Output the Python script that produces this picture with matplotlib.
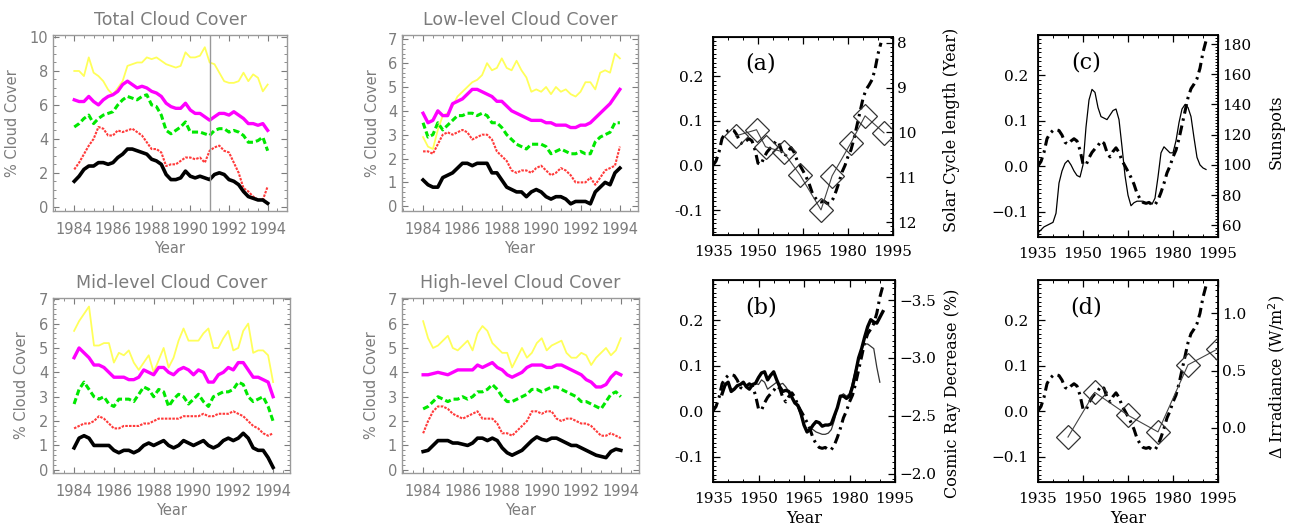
import numpy as np
import matplotlib.pyplot as plt
from matplotlib.ticker import MultipleLocator, AutoMinorLocator

# CLOUD COVER CURVES, SAMPLED EVERY QUARTER YEAR 1984.0 - 1994.0
cloud_years = np.linspace(1984, 1994, 41)

total_yellow = [8.0, 8.0, 7.7, 8.8, 7.9, 7.7, 7.4, 6.9, 6.6, 7.0, 7.4, 8.3, 8.4, 8.5, 8.5, 8.8, 8.7, 8.8, 8.6, 8.4,
                8.3, 8.2, 8.3, 9.1, 8.8, 8.8, 8.9, 9.4, 8.5, 8.4, 7.9, 7.4, 7.3, 7.3, 7.4, 7.9, 7.4, 7.8, 7.6, 6.8, 7.2]
total_magenta = [6.3, 6.2, 6.2, 6.5, 6.2, 6.0, 6.3, 6.5, 6.6, 6.8, 7.2, 7.4, 7.2, 7.0, 7.1, 7.0, 6.8, 6.7, 6.5, 6.1,
                 5.9, 5.8, 5.8, 6.1, 5.7, 5.5, 5.5, 5.3, 5.1, 5.3, 5.5, 5.5, 5.4, 5.6, 5.4, 5.2, 4.9, 4.9, 4.8, 4.9, 4.5]
total_green = [4.7, 4.9, 5.2, 5.4, 4.9, 5.2, 5.4, 5.5, 5.6, 6.0, 6.3, 6.5, 6.4, 6.3, 6.5, 6.6, 6.0, 5.9, 5.4, 4.5,
               4.3, 4.5, 4.7, 5.0, 4.4, 4.4, 4.4, 4.3, 4.2, 4.5, 4.6, 4.6, 4.4, 4.5, 4.4, 4.2, 3.8, 3.8, 3.9, 4.1, 3.3]
total_red = [2.2, 2.6, 3.1, 3.6, 4.0, 4.7, 4.6, 4.2, 4.2, 4.5, 4.4, 4.5, 4.6, 4.4, 4.2, 3.8, 3.4, 3.4, 3.2, 2.4,
             2.5, 2.5, 2.7, 2.9, 2.9, 2.8, 2.9, 2.6, 3.3, 3.5, 3.6, 3.3, 3.2, 2.6, 2.0, 1.1, 0.9, 0.6, 0.4, 0.4, 1.2]
total_black = [1.5, 1.8, 2.2, 2.4, 2.4, 2.6, 2.6, 2.5, 2.6, 2.9, 3.1, 3.4, 3.4, 3.3, 3.2, 3.1, 2.8, 2.7, 2.5, 1.9,
               1.6, 1.6, 1.7, 2.1, 1.8, 1.7, 1.8, 1.7, 1.6, 1.9, 2.0, 1.9, 1.6, 1.5, 1.3, 0.9, 0.6, 0.5, 0.4, 0.4, 0.2]

low_yellow = [2.9, 2.5, 2.4, 3.2, 3.8, 3.9, 4.2, 4.6, 4.8, 5.0, 5.2, 5.3, 5.5, 6.0, 5.7, 5.8, 6.2, 5.8, 5.7, 6.1,
              5.7, 5.4, 4.8, 4.9, 4.8, 5.0, 4.7, 5.0, 4.8, 4.9, 4.7, 4.6, 4.8, 5.2, 5.2, 4.9, 5.6, 5.7, 5.6, 6.4, 6.2]
low_magenta = [3.9, 3.5, 3.6, 4.0, 3.8, 3.8, 4.3, 4.4, 4.5, 4.7, 4.9, 4.9, 4.8, 4.7, 4.6, 4.4, 4.4, 4.2, 4.0, 3.9,
               3.8, 3.7, 3.6, 3.6, 3.6, 3.5, 3.5, 3.4, 3.4, 3.4, 3.3, 3.3, 3.4, 3.4, 3.5, 3.7, 3.9, 4.1, 4.3, 4.6, 4.9]
low_green = [3.5, 2.9, 3.0, 3.5, 3.2, 3.4, 3.6, 3.8, 3.8, 3.9, 3.9, 3.8, 3.9, 3.8, 3.5, 3.5, 3.3, 3.0, 2.8, 2.6,
             2.5, 2.4, 2.6, 2.6, 2.6, 2.5, 2.2, 2.3, 2.4, 2.3, 2.2, 2.2, 2.3, 2.2, 2.2, 2.7, 2.9, 3.0, 3.1, 3.5, 3.5]
low_red = [2.3, 2.3, 2.2, 2.6, 3.0, 3.1, 3.0, 3.1, 3.2, 3.1, 2.8, 2.9, 3.0, 3.0, 2.8, 2.3, 2.1, 1.9, 1.5, 1.4,
           1.5, 1.5, 1.4, 1.6, 1.7, 1.5, 1.3, 1.4, 1.6, 1.5, 1.3, 1.0, 1.0, 1.0, 1.2, 0.9, 1.2, 1.5, 1.6, 1.7, 2.5]
low_black = [1.1, 0.9, 0.8, 0.8, 1.2, 1.3, 1.4, 1.6, 1.8, 1.8, 1.7, 1.8, 1.8, 1.8, 1.4, 1.4, 1.1, 0.8, 0.7, 0.6,
             0.6, 0.4, 0.6, 0.7, 0.6, 0.4, 0.3, 0.4, 0.4, 0.3, 0.1, 0.2, 0.2, 0.2, 0.1, 0.6, 0.8, 1.0, 0.9, 1.4, 1.6]

mid_yellow = [5.7, 6.1, 6.4, 6.7, 5.1, 5.1, 5.2, 5.2, 4.4, 4.8, 4.7, 4.9, 4.4, 4.1, 4.4, 4.7, 4.0, 4.5, 5.0, 4.2,
              4.6, 5.3, 5.8, 5.3, 5.3, 5.3, 5.6, 5.8, 5.0, 5.0, 5.4, 5.7, 4.9, 5.0, 5.7, 6.0, 4.8, 4.9, 4.9, 4.7, 3.6]
mid_magenta = [4.6, 5.0, 4.8, 4.6, 4.3, 4.3, 4.2, 4.0, 3.8, 3.8, 3.8, 3.7, 3.7, 3.8, 4.1, 4.0, 3.9, 4.2, 4.2, 4.0,
               3.9, 4.1, 4.2, 4.1, 3.9, 4.1, 4.0, 3.6, 3.6, 3.9, 4.0, 4.2, 4.1, 4.4, 4.4, 4.1, 3.8, 3.8, 3.7, 3.6, 3.0]
mid_green = [2.7, 3.3, 3.6, 3.3, 3.0, 2.9, 3.0, 2.7, 2.6, 2.9, 2.9, 2.9, 2.8, 3.1, 3.4, 3.3, 3.0, 3.3, 3.2, 2.6,
             2.9, 3.1, 3.0, 2.7, 2.9, 3.1, 2.8, 2.6, 3.0, 3.1, 3.2, 3.2, 3.3, 3.6, 3.5, 3.0, 2.8, 2.9, 3.0, 2.6, 2.0]
mid_red = [1.7, 1.8, 1.9, 1.9, 2.0, 2.2, 2.1, 1.9, 1.7, 1.7, 1.8, 1.8, 1.8, 1.8, 1.9, 1.9, 2.0, 2.1, 2.1, 2.1,
           2.1, 2.1, 2.2, 2.2, 2.2, 2.2, 2.3, 2.2, 2.2, 2.3, 2.3, 2.3, 2.4, 2.3, 2.2, 2.0, 1.8, 1.7, 1.5, 1.4, 1.5]
mid_black = [0.9, 1.3, 1.4, 1.3, 1.0, 1.0, 1.0, 1.0, 0.8, 0.7, 0.8, 0.8, 0.7, 0.8, 1.0, 1.1, 1.0, 1.1, 1.2, 1.0,
             0.9, 1.0, 1.2, 1.1, 1.0, 1.1, 1.2, 1.0, 0.9, 1.0, 1.2, 1.3, 1.2, 1.3, 1.5, 1.3, 0.9, 0.8, 0.8, 0.5, 0.1]

high_yellow = [6.1, 5.4, 5.0, 5.1, 5.3, 5.5, 5.0, 4.9, 5.1, 5.3, 4.9, 5.6, 5.9, 5.7, 5.2, 5.0, 4.8, 4.8, 4.2, 4.6,
               5.0, 4.6, 4.8, 5.2, 5.4, 4.9, 5.1, 5.2, 5.3, 4.8, 4.6, 4.6, 4.8, 4.7, 4.3, 4.6, 4.8, 5.0, 4.7, 4.9, 5.4]
high_magenta = [3.9, 3.9, 3.95, 4.0, 3.95, 3.9, 4.0, 4.1, 4.1, 4.1, 4.1, 4.3, 4.2, 4.3, 4.4, 4.2, 4.1, 3.9, 3.8, 3.9,
                4.0, 4.2, 4.3, 4.3, 4.3, 4.2, 4.2, 4.3, 4.3, 4.2, 4.1, 4.0, 3.9, 3.7, 3.6, 3.4, 3.4, 3.5, 3.8, 4.0, 3.9]
high_green = [2.5, 2.6, 2.8, 3.0, 2.9, 2.8, 2.9, 2.9, 3.0, 2.9, 3.0, 3.2, 3.2, 3.3, 3.5, 3.3, 3.0, 2.8, 2.8, 2.9,
              3.0, 3.1, 3.3, 3.3, 3.2, 3.3, 3.4, 3.4, 3.3, 3.2, 3.1, 3.0, 2.8, 2.8, 2.7, 2.6, 2.5, 2.8, 3.1, 3.2, 3.0]
high_red = [1.5, 2.0, 2.4, 2.6, 2.6, 2.5, 2.3, 2.2, 2.1, 2.2, 2.3, 2.4, 2.1, 2.1, 2.1, 1.9, 1.5, 1.5, 1.4, 1.6,
            1.8, 2.0, 2.4, 2.4, 2.3, 2.4, 2.4, 2.1, 2.0, 2.1, 2.1, 2.0, 1.9, 1.9, 1.8, 1.6, 1.4, 1.4, 1.5, 1.4, 1.3]
high_black = [0.75, 0.8, 1.0, 1.2, 1.2, 1.2, 1.1, 1.1, 1.05, 1.0, 1.1, 1.3, 1.3, 1.2, 1.3, 1.2, 0.9, 0.7, 0.6, 0.7,
              0.8, 1.0, 1.2, 1.35, 1.25, 1.2, 1.3, 1.3, 1.2, 1.1, 1.0, 1.0, 0.9, 0.8, 0.7, 0.6, 0.55, 0.5, 0.75, 0.85, 0.8]

cloud_ticks = [1984, 1986, 1988, 1990, 1992, 1994]
vline_year = 1991.0

# TEMPERATURE ANOMALY (DASH-DOT CURVE, SAME IN ALL FOUR RIGHT PANELS)
temp_years = np.arange(1935, 1992)
temp_anom = [0.000, 0.010, 0.030, 0.060, 0.072, 0.078, 0.080, 0.078, 0.068, 0.052,
             0.048, 0.055, 0.060, 0.055, 0.035, 0.005, 0.002, 0.018, 0.030, 0.038,
             0.045, 0.055, 0.050, 0.030, 0.020, 0.032, 0.040, 0.030, 0.012, 0.000,
             -0.012, -0.025, -0.040, -0.060, -0.072, -0.080, -0.082, -0.080, -0.085, -0.085,
             -0.075, -0.058, -0.038, -0.015, 0.000, 0.020, 0.035, 0.060, 0.090, 0.120,
             0.150, 0.170, 0.180, 0.192, 0.215, 0.250, 0.275]

# (a) SOLAR CYCLE LENGTH
cycle_years = [1942.5, 1949.5, 1952.5, 1958.5, 1964.0, 1971.0, 1974.7, 1981.0, 1985.7, 1992.0]
cycle_length = [10.08, 9.94, 10.32, 10.44, 10.95, 11.73, 10.97, 10.23, 9.63, 10.01]

# (b) COSMIC RAY DECREASE
cr_thick_years = np.arange(1938, 1992)
cr_thick = [-2.69, -2.77, -2.79, -2.71, -2.73, -2.76, -2.77, -2.79, -2.75, -2.73,
            -2.77, -2.78, -2.83, -2.87, -2.88, -2.81, -2.85, -2.88, -2.81, -2.75,
            -2.71, -2.72, -2.71, -2.66, -2.61, -2.59, -2.52, -2.42, -2.36, -2.38,
            -2.42, -2.45, -2.44, -2.41, -2.42, -2.42, -2.43, -2.50, -2.57, -2.67,
            -2.67, -2.65, -2.67, -2.75, -2.87, -3.00, -3.08, -3.18, -3.27, -3.33,
            -3.31, -3.30, -3.35, -3.40]
cr_thin_years = np.arange(1938, 1991)
cr_thin = [-2.69, -2.75, -2.79, -2.73, -2.73, -2.76, -2.77, -2.78, -2.75, -2.73,
           -2.76, -2.78, -2.77, -2.81, -2.79, -2.73, -2.75, -2.77, -2.79, -2.77,
           -2.78, -2.75, -2.71, -2.67, -2.61, -2.57, -2.50, -2.42, -2.38, -2.39,
           -2.38, -2.36, -2.35, -2.34, -2.34, -2.35, -2.38, -2.46, -2.57, -2.67,
           -2.69, -2.67, -2.69, -2.79, -2.90, -3.00, -3.08, -3.12, -3.12, -3.10,
           -3.08, -2.92, -2.79]

# (c) SUNSPOTS
sun_years = np.arange(1935, 1992)
sunspots = [55, 57, 59, 60, 61, 62, 68, 88, 96, 101,
            103, 100, 96, 93, 92, 100, 125, 143, 150, 148,
            138, 132, 131, 130, 133, 136, 137, 130, 112, 93,
            80, 73, 75, 76, 76, 76, 75, 75, 74, 78,
            92, 108, 112, 110, 108, 108, 116, 128, 137, 140,
            138, 132, 118, 105, 100, 98, 97]

# (d) IRRADIANCE
irr_years = [1945.0, 1953.9, 1965.0, 1975.0, 1985.0, 1995.0]
irradiance = [-0.08, 0.31, 0.11, -0.035, 0.55, 0.69]

W, H = 1292, 528
GREY = '#7c7c7c'
SANS = 'DejaVu Sans'
SERIF = 'DejaVu Serif'
DASHDOT = (0, (3.2, 1.6, 0.8, 1.6))

plt.rcParams['font.family'] = SERIF


def px_rect(left, top, right, bottom):
    return [left / W, 1 - bottom / H, (right - left) / W, (bottom - top) / H]


fig = plt.figure(figsize=(W / 100, H / 100), dpi=100)


def cloud_panel(rect, title, xlim, ylim, ystep, yminor, curves, ylab_x, vline=None):
    ax = fig.add_axes(rect)
    yel, mag, grn, red, blk = curves
    ax.plot(cloud_years, yel, color='#ffff5a', lw=1.3)
    ax.plot(cloud_years, mag, color='#ff00ff', lw=2.4)
    ax.plot(cloud_years, grn, color='#00e800', lw=2.2, ls=(0, (2, 1)))
    ax.plot(cloud_years, red, color='#ff3a3a', lw=1.5, ls=(0, (1.2, 0.6)))
    ax.plot(cloud_years, blk, color='black', lw=2.6)
    if vline is not None:
        ax.axvline(vline, color='#999999', lw=1.0)
    ax.set_xlim(*xlim)
    ax.set_ylim(*ylim)
    ax.set_xticks(cloud_ticks)
    ax.yaxis.set_major_locator(MultipleLocator(ystep))
    ax.xaxis.set_minor_locator(MultipleLocator(0.5))
    ax.yaxis.set_minor_locator(MultipleLocator(yminor))
    ax.tick_params(which='both', direction='in', top=True, right=True, colors=GREY, labelcolor=GREY)
    ax.tick_params(which='major', length=4, width=0.8, labelsize=10.5, labelfontfamily=SANS)
    ax.tick_params(which='minor', length=2, width=0.6)
    ax.tick_params(axis='x', which='major', pad=8)
    for s in ax.spines.values():
        s.set_color('#9a9a9a')
        s.set_linewidth(1.0)
    ax.set_title(title, color=GREY, fontsize=12.5, pad=7, family=SANS)
    ax.set_xlabel('Year', color=GREY, fontsize=10.5, labelpad=3, family=SANS)
    ax.set_ylabel('% Cloud Cover', color=GREY, fontsize=10.5, family=SANS)
    ax.yaxis.set_label_coords(ylab_x, 0.5)
    return ax


cloud_panel(px_rect(53, 35, 287, 211), 'Total Cloud Cover', (1982.9, 1995.0), (-0.25, 10.12), 2, 0.5,
            (total_yellow, total_magenta, total_green, total_red, total_black), -0.14, vline=vline_year)
cloud_panel(px_rect(402, 35, 638, 211), 'Low-level Cloud Cover', (1982.93, 1994.92), (-0.2, 7.18), 1, 0.2,
            (low_yellow, low_magenta, low_green, low_red, low_black), -0.095)
cloud_panel(px_rect(53, 298, 290, 473), 'Mid-level Cloud Cover', (1982.94, 1994.85), (-0.13, 7.05), 1, 0.2,
            (mid_yellow, mid_magenta, mid_green, mid_red, mid_black), -0.1)
cloud_panel(px_rect(402, 298, 639, 473), 'High-level Cloud Cover', (1982.93, 1994.92), (-0.13, 7.05), 1, 0.2,
            (high_yellow, high_magenta, high_green, high_red, high_black), -0.095)


def solar_panel(rect, letter, left_labels, ylim2, rticks, rlabels, rlabel, rlab_xy, xlabel=False):
    ax = fig.add_axes(rect)
    ax.plot(temp_years, temp_anom, color='black', lw=2.2, ls=DASHDOT)
    ax.set_xlim(1935, 1995)
    ax.set_ylim(-0.156, 0.288)
    ax.set_xticks([1935, 1950, 1965, 1980, 1995])
    ax.set_yticks([-0.1, 0.0, 0.1, 0.2])
    ax.set_yticklabels(left_labels)
    ax.xaxis.set_minor_locator(MultipleLocator(5))
    ax.yaxis.set_minor_locator(MultipleLocator(0.01))
    ax.tick_params(which='both', direction='in', top=True, right=False, colors='black')
    ax.tick_params(which='major', length=5, width=0.9, labelsize=11)
    ax.tick_params(which='minor', length=2.5, width=0.7)
    ax.tick_params(axis='x', which='major', pad=7)
    ax.tick_params(axis='y', which='major', pad=7)
    for s in ax.spines.values():
        s.set_linewidth(1.3)
    ax.text(0.265, 0.865, letter, transform=ax.transAxes, ha='center', va='center', fontsize=16)
    if xlabel:
        ax.set_xlabel('Year', fontsize=11.5, labelpad=3)
    ax2 = ax.twinx()
    ax2.set_ylim(*ylim2)
    ax2.set_yticks(rticks)
    if rlabels is not None:
        ax2.set_yticklabels(rlabels)
    ax2.yaxis.set_minor_locator(AutoMinorLocator(10))
    ax2.tick_params(which='both', direction='in', colors='black')
    ax2.tick_params(which='major', length=5, width=0.9, labelsize=11, pad=3)
    ax2.tick_params(which='minor', length=2.5, width=0.7)
    ax2.set_ylabel(rlabel, fontsize=11.5)
    ax2.yaxis.set_label_coords(*rlab_xy)
    return ax, ax2


ax_a, ax_a2 = solar_panel(px_rect(713, 37, 893, 235), '(a)', ['-0.1', '0.0', '0.1', '0.2'],
                          (12.29, 7.87), [8, 9, 10, 11, 12], None,
                          'Solar Cycle length (Year)', (1.28, 0.53))
ax_a2.plot(cycle_years, cycle_length, color='#444444', lw=0.8, marker='D', ms=12,
           mfc='none', mec='#333333', mew=0.9)

ax_c, ax_c2 = solar_panel(px_rect(1038, 35, 1218, 237), '(c)', ['\u22120.1', '0.0', '0.1', '0.2'],
                          (52.3, 186), [60, 80, 100, 120, 140, 160, 180], None,
                          'Sunspots', (1.275, 0.52))
ax_c2.plot(sun_years, sunspots, color='black', lw=0.9)

ax_b, ax_b2 = solar_panel(px_rect(713, 280, 895, 482), '(b)', ['-0.1', '0.0', '0.1', '0.2'],
                          (-1.928, -3.673), [-3.5, -3.0, -2.5, -2.0],
                          ['\u22123.5', '\u22123.0', '\u22122.5', '\u22122.0'],
                          'Cosmic Ray Decrease (%)', (1.27, 0.44), xlabel=True)
ax_b2.plot(cr_thin_years, cr_thin, color='#333333', lw=0.9)
ax_b2.plot(cr_thick_years, cr_thick, color='black', lw=2.4)

ax_d, ax_d2 = solar_panel(px_rect(1038, 280, 1218, 482), '(d)', ['\u22120.1', '0.0', '0.1', '0.2'],
                          (-0.472, 1.29), [0.0, 0.5, 1.0], None,
                          '\u0394 Irradiance (W/m$^2$)', (1.265, 0.52), xlabel=True)
ax_d2.plot(irr_years, irradiance, color='#444444', lw=0.8, marker='D', ms=12,
           mfc='none', mec='#333333', mew=0.9)

fig.savefig('out.png', dpi=100)
